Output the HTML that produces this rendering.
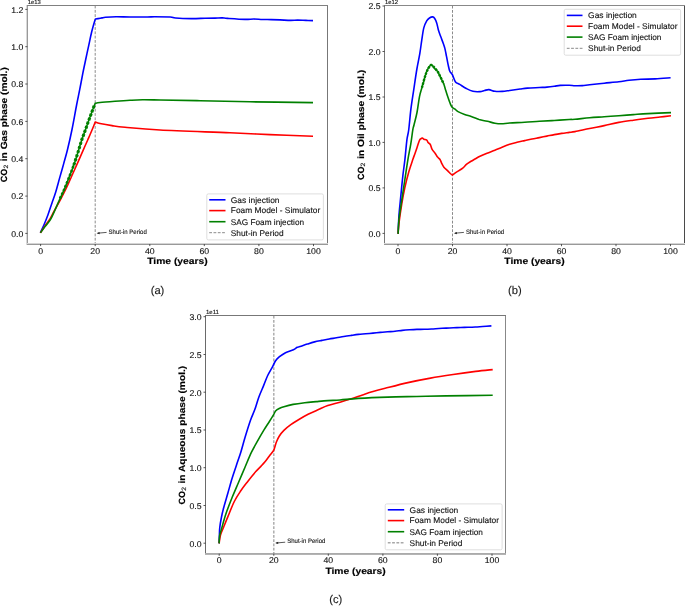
<!DOCTYPE html><html><head><meta charset="utf-8"><style>html,body{margin:0;padding:0;background:#fff;}svg{display:block;will-change:transform;} text{text-rendering:geometricPrecision;}</style></head><body>
<svg width="685" height="606" viewBox="0 0 685 606" font-family='"Liberation Sans", sans-serif'>
<rect width="685" height="606" fill="#fff"/>
<line x1="95.2" y1="5.6" x2="95.2" y2="244.0" stroke="#8a8a8a" stroke-width="1.0" stroke-dasharray="2.8 1.5"/>
<path d="M40.40,232.50 C40.98,231.25 42.65,227.92 43.90,225.00 C45.15,222.08 46.57,218.63 47.90,215.00 C49.23,211.37 50.63,206.90 51.90,203.20 C53.17,199.50 54.18,197.10 55.50,192.80 C56.82,188.50 58.43,182.27 59.80,177.40 C61.17,172.53 62.43,168.17 63.70,163.60 C64.97,159.03 66.03,155.60 67.40,150.00 C68.77,144.40 70.37,137.50 71.90,130.00 C73.43,122.50 75.28,111.80 76.60,105.00 C77.92,98.20 78.77,94.47 79.80,89.20 C80.83,83.93 81.82,78.35 82.80,73.40 C83.78,68.45 84.72,64.13 85.70,59.50 C86.68,54.87 87.70,50.22 88.70,45.60 C89.70,40.98 90.70,35.92 91.70,31.80 C92.70,27.68 94.05,23.03 94.70,20.90 C95.35,18.77 95.45,19.32 95.60,19.00 C96.00,18.93 96.93,18.78 98.00,18.60 C99.07,18.42 100.75,18.12 102.00,17.90 C103.25,17.68 103.17,17.48 105.50,17.30 C107.83,17.12 111.92,16.85 116.00,16.80 C120.08,16.75 124.75,16.97 130.00,17.00 C135.25,17.03 143.42,17.03 147.50,17.00 C151.58,16.97 150.70,16.80 154.50,16.80 C158.30,16.80 166.78,16.80 170.30,17.00 C173.82,17.20 172.10,17.73 175.60,18.00 C179.10,18.27 186.40,18.55 191.30,18.60 C196.20,18.65 201.05,18.38 205.00,18.30 C208.95,18.22 212.12,18.17 215.00,18.10 C217.88,18.03 220.22,17.85 222.30,17.90 C224.38,17.95 223.72,18.15 227.50,18.40 C231.28,18.65 240.62,19.30 245.00,19.40 C249.38,19.50 250.88,18.98 253.80,19.00 C256.72,19.02 259.58,19.40 262.50,19.50 C265.42,19.60 268.38,19.53 271.30,19.60 C274.22,19.67 276.78,19.77 280.00,19.90 C283.22,20.03 287.67,20.37 290.60,20.40 C293.53,20.43 295.03,20.10 297.60,20.10 C300.17,20.10 303.43,20.32 306.00,20.40 C308.57,20.48 311.83,20.57 313.00,20.60" fill="none" stroke="#0000ff" stroke-width="1.6" stroke-linejoin="round" stroke-linecap="butt"/>
<path d="M40.40,232.90 C41.17,231.75 43.40,228.35 45.00,226.00 C46.60,223.65 48.50,221.25 50.00,218.80 C51.50,216.35 52.23,214.53 54.00,211.30 C55.77,208.07 58.40,203.58 60.60,199.40 C62.80,195.22 65.12,190.60 67.20,186.20 C69.28,181.80 71.23,177.18 73.10,173.00 C74.97,168.82 76.75,164.83 78.40,161.10 C80.05,157.37 81.45,154.12 83.00,150.60 C84.55,147.08 86.27,143.27 87.70,140.00 C89.13,136.73 90.35,133.98 91.60,131.00 C92.85,128.02 94.60,123.58 95.20,122.10 C96.00,122.33 97.20,122.92 100.00,123.50 C102.80,124.08 107.83,124.98 112.00,125.60 C116.17,126.22 117.00,126.47 125.00,127.20 C133.00,127.93 142.50,129.07 160.00,130.00 C177.50,130.93 211.67,132.03 230.00,132.80 C248.33,133.57 256.17,134.02 270.00,134.60 C283.83,135.18 305.83,136.02 313.00,136.30" fill="none" stroke="#ff0000" stroke-width="1.6" stroke-linejoin="round" stroke-linecap="butt"/>
<path d="M40.40,232.90 C41.17,231.83 43.28,228.78 45.00,226.50 C46.72,224.22 48.55,223.05 50.70,219.20 C52.85,215.35 55.60,208.47 57.90,203.40 C60.20,198.33 62.52,193.43 64.50,188.80 C66.48,184.17 68.25,179.55 69.80,175.60 C71.35,171.65 72.48,168.83 73.80,165.10 C75.12,161.37 76.38,157.38 77.70,153.20 C79.02,149.02 80.48,143.70 81.70,140.00 C82.92,136.30 83.95,133.92 85.00,131.00 C86.05,128.08 86.92,125.50 88.00,122.50 C89.08,119.50 90.30,116.20 91.50,113.00 C92.70,109.80 94.58,104.92 95.20,103.30 C96.00,103.17 96.70,102.83 100.00,102.50 C103.30,102.17 110.00,101.67 115.00,101.30 C120.00,100.93 125.40,100.55 130.00,100.30 C134.60,100.05 137.60,99.85 142.60,99.80 C147.60,99.75 150.43,99.85 160.00,100.00 C169.57,100.15 185.00,100.40 200.00,100.70 C215.00,101.00 231.17,101.48 250.00,101.80 C268.83,102.12 302.50,102.47 313.00,102.60" fill="none" stroke="#008000" stroke-width="1.6" stroke-linejoin="round" stroke-linecap="butt"/>
<path d="M60,198.5 L64.5,188.8 L69.8,175.6 L73.8,165.1" fill="none" stroke="#008000" stroke-width="2.6" stroke-dasharray="2.3 1.8" stroke-linejoin="round"/>
<path d="M73.8,165.1 L77.7,153.2 L81.7,140 L85,131 L88,122.5 L91.5,113 L94.6,104.5" fill="none" stroke="#008000" stroke-width="3.1" stroke-dasharray="2.6 1.7" stroke-linejoin="round"/>
<rect x="26" y="5" width="1" height="240" fill="#d8d8d8"/>
<rect x="27" y="5" width="1" height="240" fill="#999"/>
<rect x="327" y="5" width="1" height="240" fill="#777"/>
<rect x="27" y="5" width="301" height="1" fill="#808080"/>
<rect x="27" y="243" width="301" height="1" fill="#d4d4d4"/>
<rect x="27" y="244" width="301" height="1" fill="#999"/>
<line x1="40.6" y1="244.0" x2="40.6" y2="246.1" stroke="#3a3a3a" stroke-width="0.85"/>
<text x="40.60" y="253.70" font-size="8.36" text-anchor="middle" fill="#111" stroke="#111" stroke-width="0.12" textLength="4.84" lengthAdjust="spacingAndGlyphs">0</text>
<line x1="95.2" y1="244.0" x2="95.2" y2="246.1" stroke="#3a3a3a" stroke-width="0.85"/>
<text x="95.18" y="253.70" font-size="8.36" text-anchor="middle" fill="#111" stroke="#111" stroke-width="0.12" textLength="9.67" lengthAdjust="spacingAndGlyphs">20</text>
<line x1="149.8" y1="244.0" x2="149.8" y2="246.1" stroke="#3a3a3a" stroke-width="0.85"/>
<text x="149.76" y="253.70" font-size="8.36" text-anchor="middle" fill="#111" stroke="#111" stroke-width="0.12" textLength="9.67" lengthAdjust="spacingAndGlyphs">40</text>
<line x1="204.3" y1="244.0" x2="204.3" y2="246.1" stroke="#3a3a3a" stroke-width="0.85"/>
<text x="204.34" y="253.70" font-size="8.36" text-anchor="middle" fill="#111" stroke="#111" stroke-width="0.12" textLength="9.67" lengthAdjust="spacingAndGlyphs">60</text>
<line x1="258.9" y1="244.0" x2="258.9" y2="246.1" stroke="#3a3a3a" stroke-width="0.85"/>
<text x="258.92" y="253.70" font-size="8.36" text-anchor="middle" fill="#111" stroke="#111" stroke-width="0.12" textLength="9.67" lengthAdjust="spacingAndGlyphs">80</text>
<line x1="313.5" y1="244.0" x2="313.5" y2="246.1" stroke="#3a3a3a" stroke-width="0.85"/>
<text x="313.50" y="253.70" font-size="8.36" text-anchor="middle" fill="#111" stroke="#111" stroke-width="0.12" textLength="14.51" lengthAdjust="spacingAndGlyphs">100</text>
<line x1="25.3" y1="233.4" x2="27.4" y2="233.4" stroke="#3a3a3a" stroke-width="0.85"/>
<text x="23.30" y="236.80" font-size="8.36" text-anchor="end" fill="#111" stroke="#111" stroke-width="0.12" textLength="12.09" lengthAdjust="spacingAndGlyphs">0.0</text>
<line x1="25.3" y1="196.1" x2="27.4" y2="196.1" stroke="#3a3a3a" stroke-width="0.85"/>
<text x="23.30" y="199.46" font-size="8.36" text-anchor="end" fill="#111" stroke="#111" stroke-width="0.12" textLength="12.09" lengthAdjust="spacingAndGlyphs">0.2</text>
<line x1="25.3" y1="158.7" x2="27.4" y2="158.7" stroke="#3a3a3a" stroke-width="0.85"/>
<text x="23.30" y="162.12" font-size="8.36" text-anchor="end" fill="#111" stroke="#111" stroke-width="0.12" textLength="12.09" lengthAdjust="spacingAndGlyphs">0.4</text>
<line x1="25.3" y1="121.4" x2="27.4" y2="121.4" stroke="#3a3a3a" stroke-width="0.85"/>
<text x="23.30" y="124.78" font-size="8.36" text-anchor="end" fill="#111" stroke="#111" stroke-width="0.12" textLength="12.09" lengthAdjust="spacingAndGlyphs">0.6</text>
<line x1="25.3" y1="84.0" x2="27.4" y2="84.0" stroke="#3a3a3a" stroke-width="0.85"/>
<text x="23.30" y="87.44" font-size="8.36" text-anchor="end" fill="#111" stroke="#111" stroke-width="0.12" textLength="12.09" lengthAdjust="spacingAndGlyphs">0.8</text>
<line x1="25.3" y1="46.7" x2="27.4" y2="46.7" stroke="#3a3a3a" stroke-width="0.85"/>
<text x="23.30" y="50.10" font-size="8.36" text-anchor="end" fill="#111" stroke="#111" stroke-width="0.12" textLength="12.09" lengthAdjust="spacingAndGlyphs">1.0</text>
<line x1="25.3" y1="9.4" x2="27.4" y2="9.4" stroke="#3a3a3a" stroke-width="0.85"/>
<text x="23.30" y="12.76" font-size="8.36" text-anchor="end" fill="#111" stroke="#111" stroke-width="0.12" textLength="12.09" lengthAdjust="spacingAndGlyphs">1.2</text>
<text x="27.70" y="4.00" font-size="5.98" fill="#111" stroke="#111" stroke-width="0.12" textLength="13.12" lengthAdjust="spacingAndGlyphs">1e13</text>
<text x="177.45" y="263.80" font-size="9.01" font-weight="bold" text-anchor="middle" fill="#000" stroke="#000" stroke-width="0.15" textLength="60.35" lengthAdjust="spacingAndGlyphs">Time (years)</text>
<g transform="translate(6.90,182.20) rotate(-90)">
<text x="0.00" y="0.00" font-size="9.01" font-weight="bold" fill="#000" stroke="#000" stroke-width="0.15" textLength="13.46" lengthAdjust="spacingAndGlyphs">CO</text>
<text x="13.66" y="1.30" font-size="6.31" fill="#000" stroke="#000" stroke-width="0.1" textLength="3.79" lengthAdjust="spacingAndGlyphs">2</text>
<text x="18.15" y="0.00" font-size="9.01" font-weight="bold" fill="#000" stroke="#000" stroke-width="0.15" textLength="96.88" lengthAdjust="spacingAndGlyphs" style="white-space:pre"> in Gas phase (mol.)</text>
</g>
<line x1="106.6" y1="232.4" x2="97.7" y2="233.2" stroke="#222" stroke-width="0.75"/>
<path d="M96.6,233.3 L99.6,232.0 L99.6,234.3 Z" fill="#222"/>
<text x="108.58" y="233.50" font-size="6.36" fill="#111" stroke="#111" stroke-width="0.1" textLength="38.20" lengthAdjust="spacingAndGlyphs">Shut-in Period</text>
<rect x="206.8" y="193.9" width="116.6" height="46.0" rx="1.5" fill="#fff" fill-opacity="0.8" stroke="#d6d6d6" stroke-width="0.8"/>
<line x1="209.2" y1="199.8" x2="225.5" y2="199.8" stroke="#0000ff" stroke-width="1.6"/>
<text x="230.80" y="202.60" font-size="8.25" fill="#111" stroke="#111" stroke-width="0.12" textLength="48.72" lengthAdjust="spacingAndGlyphs">Gas injection</text>
<line x1="209.2" y1="210.6" x2="225.5" y2="210.6" stroke="#ff0000" stroke-width="1.6"/>
<text x="230.80" y="213.40" font-size="8.25" fill="#111" stroke="#111" stroke-width="0.12" textLength="89.38" lengthAdjust="spacingAndGlyphs">Foam Model - Simulator</text>
<line x1="209.2" y1="221.7" x2="225.5" y2="221.7" stroke="#008000" stroke-width="1.6"/>
<text x="230.80" y="224.50" font-size="8.25" fill="#111" stroke="#111" stroke-width="0.12" textLength="73.30" lengthAdjust="spacingAndGlyphs">SAG Foam injection</text>
<line x1="209.2" y1="232.7" x2="225.5" y2="232.7" stroke="#8a8a8a" stroke-width="1.0" stroke-dasharray="2.8 1.5"/>
<text x="230.80" y="235.50" font-size="8.25" fill="#111" stroke="#111" stroke-width="0.12" textLength="52.79" lengthAdjust="spacingAndGlyphs">Shut-in Period</text>
<line x1="452.5" y1="5.7" x2="452.5" y2="244.1" stroke="#8a8a8a" stroke-width="1.0" stroke-dasharray="2.8 1.5"/>
<path d="M398.10,233.90 C398.25,230.75 398.53,221.45 399.00,215.00 C399.47,208.55 400.25,201.80 400.90,195.20 C401.55,188.60 402.23,181.33 402.90,175.40 C403.57,169.47 404.23,165.53 404.90,159.60 C405.57,153.67 406.27,144.73 406.90,139.80 C407.53,134.87 408.03,135.10 408.70,130.00 C409.37,124.90 410.05,115.97 410.90,109.20 C411.75,102.43 412.82,96.02 413.80,89.40 C414.78,82.78 415.80,75.45 416.80,69.50 C417.80,63.55 418.97,58.65 419.80,53.70 C420.63,48.75 421.13,44.10 421.80,39.80 C422.47,35.50 422.98,31.05 423.80,27.90 C424.62,24.75 425.75,22.55 426.70,20.90 C427.65,19.25 428.50,18.67 429.50,18.00 C430.50,17.33 431.83,16.82 432.70,16.90 C433.57,16.98 434.03,17.50 434.70,18.50 C435.37,19.50 436.08,20.98 436.70,22.90 C437.32,24.82 437.73,27.72 438.40,30.00 C439.07,32.28 439.90,34.40 440.70,36.60 C441.50,38.80 442.52,41.28 443.20,43.20 C443.88,45.12 444.25,45.90 444.80,48.10 C445.35,50.30 445.95,53.65 446.50,56.40 C447.05,59.15 447.55,62.13 448.10,64.60 C448.65,67.07 449.10,69.55 449.80,71.20 C450.50,72.85 451.35,72.72 452.30,74.50 C453.25,76.28 454.27,80.25 455.50,81.90 C456.73,83.55 457.90,83.30 459.70,84.40 C461.50,85.50 464.10,87.35 466.30,88.50 C468.50,89.65 470.62,90.78 472.90,91.30 C475.18,91.82 478.07,91.73 480.00,91.60 C481.93,91.47 483.02,90.83 484.50,90.50 C485.98,90.17 487.17,89.47 488.90,89.60 C490.63,89.73 492.67,91.00 494.90,91.30 C497.13,91.60 499.83,91.53 502.30,91.40 C504.77,91.27 506.73,90.90 509.70,90.50 C512.67,90.10 517.13,89.40 520.10,89.00 C523.07,88.60 524.28,88.35 527.50,88.10 C530.72,87.85 536.17,87.67 539.40,87.50 C542.63,87.33 544.42,87.30 546.90,87.10 C549.38,86.90 552.08,86.58 554.30,86.30 C556.52,86.02 557.72,85.57 560.20,85.40 C562.68,85.23 566.73,85.25 569.20,85.30 C571.67,85.35 572.82,85.65 575.00,85.70 C577.18,85.75 579.87,85.77 582.30,85.60 C584.73,85.43 585.95,85.10 589.60,84.70 C593.25,84.30 599.33,83.68 604.20,83.20 C609.07,82.72 614.67,82.28 618.80,81.80 C622.93,81.32 625.35,80.72 629.00,80.30 C632.65,79.88 636.32,79.53 640.70,79.30 C645.08,79.07 650.32,79.15 655.30,78.90 C660.28,78.65 668.05,77.98 670.60,77.80" fill="none" stroke="#0000ff" stroke-width="1.6" stroke-linejoin="round" stroke-linecap="butt"/>
<path d="M398.10,233.90 C398.25,232.08 398.37,228.12 399.00,223.00 C399.63,217.88 400.92,209.15 401.90,203.20 C402.88,197.25 403.73,192.58 404.90,187.30 C406.07,182.02 407.58,176.12 408.90,171.50 C410.22,166.88 411.78,162.62 412.80,159.60 C413.82,156.58 414.27,155.50 415.00,153.40 C415.73,151.30 416.47,149.15 417.20,147.00 C417.93,144.85 418.82,141.87 419.40,140.50 C419.98,139.13 420.20,139.20 420.70,138.80 C421.20,138.40 421.88,138.02 422.40,138.10 C422.92,138.18 423.07,138.97 423.80,139.30 C424.53,139.63 426.08,139.55 426.80,140.10 C427.52,140.65 427.52,141.87 428.10,142.60 C428.68,143.33 429.63,143.38 430.30,144.50 C430.97,145.62 431.30,147.85 432.10,149.30 C432.90,150.75 434.23,151.95 435.10,153.20 C435.97,154.45 436.48,155.75 437.30,156.80 C438.12,157.85 439.27,158.42 440.00,159.50 C440.73,160.58 441.05,162.02 441.70,163.30 C442.35,164.58 442.88,165.93 443.90,167.20 C444.92,168.47 446.63,169.77 447.80,170.90 C448.97,172.03 450.12,173.30 450.90,174.00 C451.68,174.70 452.23,174.92 452.50,175.10 C452.97,174.73 454.25,173.63 455.30,172.90 C456.35,172.17 457.57,171.50 458.80,170.70 C460.03,169.90 461.38,169.18 462.70,168.10 C464.02,167.02 465.32,165.33 466.70,164.20 C468.08,163.07 469.62,162.17 471.00,161.30 C472.38,160.43 473.50,159.85 475.00,159.00 C476.50,158.15 478.00,157.17 480.00,156.20 C482.00,155.23 484.52,154.20 487.00,153.20 C489.48,152.20 492.40,151.20 494.90,150.20 C497.40,149.20 499.53,148.18 502.00,147.20 C504.47,146.22 507.20,145.12 509.70,144.30 C512.20,143.48 514.52,142.92 517.00,142.30 C519.48,141.68 522.10,141.15 524.60,140.60 C527.10,140.05 529.53,139.50 532.00,139.00 C534.47,138.50 536.92,138.08 539.40,137.60 C541.88,137.12 544.42,136.60 546.90,136.10 C549.38,135.60 551.83,135.05 554.30,134.60 C556.77,134.15 559.22,133.77 561.70,133.40 C564.18,133.03 566.98,132.70 569.20,132.40 C571.42,132.10 571.60,132.25 575.00,131.60 C578.40,130.95 584.73,129.50 589.60,128.50 C594.47,127.50 599.33,126.62 604.20,125.60 C609.07,124.58 613.93,123.30 618.80,122.40 C623.67,121.50 628.53,120.88 633.40,120.20 C638.27,119.52 643.57,118.83 648.00,118.30 C652.43,117.77 656.17,117.42 660.00,117.00 C663.83,116.58 669.17,116.00 671.00,115.80" fill="none" stroke="#ff0000" stroke-width="1.6" stroke-linejoin="round" stroke-linecap="butt"/>
<path d="M398.10,233.90 C398.25,231.42 398.37,224.78 399.00,219.00 C399.63,213.22 400.92,205.80 401.90,199.20 C402.88,192.60 403.90,186.00 404.90,179.40 C405.90,172.80 406.92,165.53 407.90,159.60 C408.88,153.67 409.98,148.75 410.80,143.80 C411.62,138.85 412.27,133.03 412.80,129.90 C413.33,126.77 413.30,127.90 414.00,125.00 C414.70,122.10 416.08,117.23 417.00,112.50 C417.92,107.77 418.68,100.73 419.50,96.60 C420.32,92.47 421.17,90.35 421.90,87.70 C422.63,85.05 423.23,83.02 423.90,80.70 C424.57,78.38 425.23,75.77 425.90,73.80 C426.57,71.83 427.00,70.38 427.90,68.90 C428.80,67.42 430.15,64.95 431.30,64.90 C432.45,64.85 433.72,67.45 434.80,68.60 C435.88,69.75 436.82,70.30 437.80,71.80 C438.78,73.30 439.72,75.62 440.70,77.60 C441.68,79.58 442.87,81.58 443.70,83.70 C444.53,85.82 445.03,88.15 445.70,90.30 C446.37,92.45 446.97,94.43 447.70,96.60 C448.43,98.77 449.37,101.52 450.10,103.30 C450.83,105.08 451.28,106.32 452.10,107.30 C452.92,108.28 454.02,108.48 455.00,109.20 C455.98,109.92 456.40,110.73 458.00,111.60 C459.60,112.47 462.40,113.58 464.60,114.40 C466.80,115.22 469.00,115.73 471.20,116.50 C473.40,117.27 476.33,118.45 477.80,119.00 C479.27,119.55 478.40,119.42 480.00,119.80 C481.60,120.18 484.92,120.73 487.40,121.30 C489.88,121.87 492.55,122.78 494.90,123.20 C497.25,123.62 499.03,123.83 501.50,123.80 C503.97,123.77 505.85,123.25 509.70,123.00 C513.55,122.75 519.65,122.58 524.60,122.30 C529.55,122.02 534.45,121.60 539.40,121.30 C544.35,121.00 549.33,120.80 554.30,120.50 C559.27,120.20 565.75,119.70 569.20,119.50 C572.65,119.30 571.60,119.58 575.00,119.30 C578.40,119.02 584.73,118.22 589.60,117.80 C594.47,117.38 599.33,117.15 604.20,116.80 C609.07,116.45 613.93,116.07 618.80,115.70 C623.67,115.33 628.53,114.95 633.40,114.60 C638.27,114.25 641.73,113.93 648.00,113.60 C654.27,113.27 667.17,112.77 671.00,112.60" fill="none" stroke="#008000" stroke-width="1.6" stroke-linejoin="round" stroke-linecap="butt"/>
<path d="M421.9,87.7 C423,84 424.5,77.5 425.9,73.8 C427,71 429,66 431.3,64.9 C433,65.5 436,69.5 437.8,71.8 C439,73.5 441.5,79.5 443.7,83.7" fill="none" stroke="#008000" stroke-width="2.4" stroke-dasharray="2.2 1.2" stroke-linejoin="round"/>
<rect x="384" y="5" width="1" height="240" fill="#777"/>
<rect x="684" y="5" width="1" height="240" fill="#4a4a4a"/>
<rect x="384" y="5" width="301" height="1" fill="#888"/>
<rect x="384" y="243" width="301" height="1" fill="#d4d4d4"/>
<rect x="384" y="244" width="301" height="1" fill="#999"/>
<line x1="398.0" y1="244.1" x2="398.0" y2="246.2" stroke="#3a3a3a" stroke-width="0.85"/>
<text x="398.00" y="253.80" font-size="8.36" text-anchor="middle" fill="#111" stroke="#111" stroke-width="0.12" textLength="4.84" lengthAdjust="spacingAndGlyphs">0</text>
<line x1="452.5" y1="244.1" x2="452.5" y2="246.2" stroke="#3a3a3a" stroke-width="0.85"/>
<text x="452.50" y="253.80" font-size="8.36" text-anchor="middle" fill="#111" stroke="#111" stroke-width="0.12" textLength="9.67" lengthAdjust="spacingAndGlyphs">20</text>
<line x1="507.0" y1="244.1" x2="507.0" y2="246.2" stroke="#3a3a3a" stroke-width="0.85"/>
<text x="507.00" y="253.80" font-size="8.36" text-anchor="middle" fill="#111" stroke="#111" stroke-width="0.12" textLength="9.67" lengthAdjust="spacingAndGlyphs">40</text>
<line x1="561.5" y1="244.1" x2="561.5" y2="246.2" stroke="#3a3a3a" stroke-width="0.85"/>
<text x="561.50" y="253.80" font-size="8.36" text-anchor="middle" fill="#111" stroke="#111" stroke-width="0.12" textLength="9.67" lengthAdjust="spacingAndGlyphs">60</text>
<line x1="616.0" y1="244.1" x2="616.0" y2="246.2" stroke="#3a3a3a" stroke-width="0.85"/>
<text x="616.00" y="253.80" font-size="8.36" text-anchor="middle" fill="#111" stroke="#111" stroke-width="0.12" textLength="9.67" lengthAdjust="spacingAndGlyphs">80</text>
<line x1="670.5" y1="244.1" x2="670.5" y2="246.2" stroke="#3a3a3a" stroke-width="0.85"/>
<text x="670.50" y="253.80" font-size="8.36" text-anchor="middle" fill="#111" stroke="#111" stroke-width="0.12" textLength="14.51" lengthAdjust="spacingAndGlyphs">100</text>
<line x1="382.5" y1="233.4" x2="384.6" y2="233.4" stroke="#3a3a3a" stroke-width="0.85"/>
<text x="380.50" y="236.80" font-size="8.36" text-anchor="end" fill="#111" stroke="#111" stroke-width="0.12" textLength="12.09" lengthAdjust="spacingAndGlyphs">0.0</text>
<line x1="382.5" y1="187.9" x2="384.6" y2="187.9" stroke="#3a3a3a" stroke-width="0.85"/>
<text x="380.50" y="191.33" font-size="8.36" text-anchor="end" fill="#111" stroke="#111" stroke-width="0.12" textLength="12.09" lengthAdjust="spacingAndGlyphs">0.5</text>
<line x1="382.5" y1="142.4" x2="384.6" y2="142.4" stroke="#3a3a3a" stroke-width="0.85"/>
<text x="380.50" y="145.85" font-size="8.36" text-anchor="end" fill="#111" stroke="#111" stroke-width="0.12" textLength="12.09" lengthAdjust="spacingAndGlyphs">1.0</text>
<line x1="382.5" y1="97.0" x2="384.6" y2="97.0" stroke="#3a3a3a" stroke-width="0.85"/>
<text x="380.50" y="100.38" font-size="8.36" text-anchor="end" fill="#111" stroke="#111" stroke-width="0.12" textLength="12.09" lengthAdjust="spacingAndGlyphs">1.5</text>
<line x1="382.5" y1="51.5" x2="384.6" y2="51.5" stroke="#3a3a3a" stroke-width="0.85"/>
<text x="380.50" y="54.90" font-size="8.36" text-anchor="end" fill="#111" stroke="#111" stroke-width="0.12" textLength="12.09" lengthAdjust="spacingAndGlyphs">2.0</text>
<line x1="382.5" y1="6.0" x2="384.6" y2="6.0" stroke="#3a3a3a" stroke-width="0.85"/>
<text x="380.50" y="9.43" font-size="8.36" text-anchor="end" fill="#111" stroke="#111" stroke-width="0.12" textLength="12.09" lengthAdjust="spacingAndGlyphs">2.5</text>
<text x="384.90" y="4.10" font-size="5.98" fill="#111" stroke="#111" stroke-width="0.12" textLength="13.12" lengthAdjust="spacingAndGlyphs">1e12</text>
<text x="534.50" y="263.90" font-size="9.01" font-weight="bold" text-anchor="middle" fill="#000" stroke="#000" stroke-width="0.15" textLength="60.35" lengthAdjust="spacingAndGlyphs">Time (years)</text>
<g transform="translate(364.10,180.10) rotate(-90)">
<text x="0.00" y="0.00" font-size="9.01" font-weight="bold" fill="#000" stroke="#000" stroke-width="0.15" textLength="13.46" lengthAdjust="spacingAndGlyphs">CO</text>
<text x="13.66" y="1.30" font-size="6.31" fill="#000" stroke="#000" stroke-width="0.1" textLength="3.79" lengthAdjust="spacingAndGlyphs">2</text>
<text x="18.15" y="0.00" font-size="9.01" font-weight="bold" fill="#000" stroke="#000" stroke-width="0.15" textLength="92.16" lengthAdjust="spacingAndGlyphs" style="white-space:pre"> in Oil phase (mol.)</text>
</g>
<line x1="463.9" y1="232.4" x2="455.0" y2="233.2" stroke="#222" stroke-width="0.75"/>
<path d="M453.9,233.3 L456.9,232.0 L456.9,234.3 Z" fill="#222"/>
<text x="465.90" y="233.50" font-size="6.36" fill="#111" stroke="#111" stroke-width="0.1" textLength="38.20" lengthAdjust="spacingAndGlyphs">Shut-in Period</text>
<rect x="564.2" y="9.3" width="116.4" height="45.9" rx="1.5" fill="#fff" fill-opacity="0.8" stroke="#d6d6d6" stroke-width="0.8"/>
<line x1="566.8" y1="15.4" x2="582.5" y2="15.4" stroke="#0000ff" stroke-width="1.6"/>
<text x="588.10" y="18.20" font-size="8.25" fill="#111" stroke="#111" stroke-width="0.12" textLength="48.72" lengthAdjust="spacingAndGlyphs">Gas injection</text>
<line x1="566.8" y1="26.2" x2="582.5" y2="26.2" stroke="#ff0000" stroke-width="1.6"/>
<text x="588.10" y="29.00" font-size="8.25" fill="#111" stroke="#111" stroke-width="0.12" textLength="89.38" lengthAdjust="spacingAndGlyphs">Foam Model - Simulator</text>
<line x1="566.8" y1="37.1" x2="582.5" y2="37.1" stroke="#008000" stroke-width="1.6"/>
<text x="588.10" y="39.90" font-size="8.25" fill="#111" stroke="#111" stroke-width="0.12" textLength="73.30" lengthAdjust="spacingAndGlyphs">SAG Foam injection</text>
<line x1="566.8" y1="48.3" x2="582.5" y2="48.3" stroke="#8a8a8a" stroke-width="1.0" stroke-dasharray="2.8 1.5"/>
<text x="588.10" y="51.10" font-size="8.25" fill="#111" stroke="#111" stroke-width="0.12" textLength="52.79" lengthAdjust="spacingAndGlyphs">Shut-in Period</text>
<line x1="273.8" y1="315.6" x2="273.8" y2="553.7" stroke="#a8a8a8" stroke-width="1.4" stroke-dasharray="2.8 1.5"/>
<path d="M219.10,543.40 C219.15,542.00 219.28,537.68 219.40,535.00 C219.52,532.32 219.45,530.30 219.80,527.30 C220.15,524.30 220.87,520.22 221.50,517.00 C222.13,513.78 222.53,512.00 223.60,508.00 C224.67,504.00 226.47,498.00 227.90,493.00 C229.33,488.00 230.77,482.67 232.20,478.00 C233.63,473.33 235.07,469.30 236.50,465.00 C237.93,460.70 239.38,456.78 240.80,452.20 C242.22,447.62 243.40,442.78 245.00,437.50 C246.60,432.22 248.77,425.15 250.40,420.50 C252.03,415.85 253.40,413.48 254.80,409.60 C256.20,405.72 257.32,401.23 258.80,397.20 C260.28,393.17 262.22,389.02 263.70,385.40 C265.18,381.78 266.22,378.63 267.70,375.50 C269.18,372.37 271.28,369.07 272.60,366.60 C273.92,364.13 274.45,362.35 275.60,360.70 C276.75,359.05 277.85,358.03 279.50,356.70 C281.15,355.37 283.18,353.85 285.50,352.70 C287.82,351.55 291.43,350.70 293.40,349.80 C295.37,348.90 296.20,347.83 297.30,347.30 C298.40,346.77 298.33,347.13 300.00,346.60 C301.67,346.07 304.87,344.88 307.30,344.10 C309.73,343.32 312.17,342.52 314.60,341.90 C317.03,341.28 319.47,340.88 321.90,340.40 C324.33,339.92 326.77,339.43 329.20,339.00 C331.63,338.57 334.07,338.22 336.50,337.80 C338.93,337.38 341.37,336.90 343.80,336.50 C346.23,336.10 348.67,335.75 351.10,335.40 C353.53,335.05 355.97,334.67 358.40,334.40 C360.83,334.13 363.27,334.02 365.70,333.80 C368.13,333.58 370.57,333.33 373.00,333.10 C375.43,332.87 377.87,332.62 380.30,332.40 C382.73,332.18 385.15,331.98 387.60,331.80 C390.05,331.62 392.55,331.53 395.00,331.30 C397.45,331.07 399.87,330.65 402.30,330.40 C404.73,330.15 407.17,329.97 409.60,329.80 C412.03,329.63 414.47,329.48 416.90,329.40 C419.33,329.32 421.77,329.37 424.20,329.30 C426.63,329.23 429.07,329.13 431.50,329.00 C433.93,328.87 436.37,328.65 438.80,328.50 C441.23,328.35 443.67,328.22 446.10,328.10 C448.53,327.98 450.97,327.90 453.40,327.80 C455.83,327.70 458.27,327.58 460.70,327.50 C463.13,327.42 465.57,327.38 468.00,327.30 C470.43,327.22 472.87,327.13 475.30,327.00 C477.73,326.87 479.92,326.68 482.60,326.50 C485.28,326.32 489.93,326.00 491.40,325.90" fill="none" stroke="#0000ff" stroke-width="1.6" stroke-linejoin="round" stroke-linecap="butt"/>
<path d="M219.10,543.40 C219.33,542.00 219.75,537.68 220.50,535.00 C221.25,532.32 222.37,530.37 223.60,527.30 C224.83,524.23 226.12,520.90 227.90,516.60 C229.68,512.30 232.15,505.80 234.30,501.50 C236.45,497.20 238.65,494.02 240.80,490.80 C242.95,487.58 244.70,485.42 247.20,482.20 C249.70,478.98 253.48,474.18 255.80,471.50 C258.12,468.82 259.57,467.72 261.10,466.10 C262.63,464.48 263.68,463.40 265.00,461.80 C266.32,460.20 267.72,458.17 269.00,456.50 C270.28,454.83 271.88,452.88 272.70,451.80 C273.52,450.72 273.70,450.30 273.90,450.00 C274.02,449.63 274.18,449.13 274.60,447.80 C275.02,446.47 275.63,443.93 276.40,442.00 C277.17,440.07 277.95,438.13 279.20,436.20 C280.45,434.27 281.97,432.32 283.90,430.40 C285.83,428.48 288.30,426.52 290.80,424.70 C293.30,422.88 296.02,421.23 298.90,419.50 C301.78,417.77 304.83,415.95 308.10,414.30 C311.37,412.65 315.22,411.05 318.50,409.60 C321.78,408.15 324.22,406.83 327.80,405.60 C331.38,404.37 336.08,403.35 340.00,402.20 C343.92,401.05 347.53,399.92 351.30,398.70 C355.07,397.48 358.98,396.08 362.60,394.90 C366.22,393.72 369.23,392.70 373.00,391.60 C376.77,390.50 379.38,389.80 385.20,388.30 C391.02,386.80 400.35,384.30 407.90,382.60 C415.45,380.90 422.97,379.45 430.50,378.10 C438.03,376.75 445.57,375.62 453.10,374.50 C460.63,373.38 469.10,372.22 475.70,371.40 C482.30,370.58 489.87,369.90 492.70,369.60" fill="none" stroke="#ff0000" stroke-width="1.6" stroke-linejoin="round" stroke-linecap="butt"/>
<path d="M219.10,543.40 C219.18,542.17 219.22,538.33 219.60,536.00 C219.98,533.67 220.38,533.00 221.40,529.40 C222.42,525.80 223.90,519.75 225.70,514.40 C227.50,509.05 230.05,502.67 232.20,497.30 C234.35,491.93 236.47,487.22 238.60,482.20 C240.73,477.18 242.85,472.20 245.00,467.20 C247.15,462.20 249.35,456.67 251.50,452.20 C253.65,447.73 255.87,444.03 257.90,440.40 C259.93,436.77 261.73,433.63 263.70,430.40 C265.67,427.17 268.07,423.60 269.70,421.00 C271.33,418.40 272.48,416.50 273.50,414.80 C274.52,413.10 274.85,411.85 275.80,410.80 C276.75,409.75 277.85,409.18 279.20,408.50 C280.55,407.82 281.58,407.38 283.90,406.70 C286.22,406.02 289.63,405.07 293.10,404.40 C296.57,403.73 300.85,403.17 304.70,402.70 C308.55,402.23 312.35,401.95 316.20,401.60 C320.05,401.25 323.83,400.87 327.80,400.60 C331.77,400.33 334.90,400.37 340.00,400.00 C345.10,399.63 350.47,398.88 358.40,398.40 C366.33,397.92 377.87,397.42 387.60,397.10 C397.33,396.78 407.07,396.70 416.80,396.50 C426.53,396.30 433.35,396.10 446.00,395.90 C458.65,395.70 484.92,395.40 492.70,395.30" fill="none" stroke="#008000" stroke-width="1.6" stroke-linejoin="round" stroke-linecap="butt"/>
<rect x="205" y="315" width="1" height="240" fill="#6a6a6a"/>
<rect x="505" y="315" width="1" height="240" fill="#888"/>
<rect x="205" y="315" width="301" height="1" fill="#777"/>
<rect x="205" y="553" width="301" height="1" fill="#aaa"/>
<rect x="205" y="554" width="301" height="1" fill="#b4b4b4"/>
<line x1="219.2" y1="553.7" x2="219.2" y2="555.8" stroke="#3a3a3a" stroke-width="0.85"/>
<text x="219.20" y="563.40" font-size="8.36" text-anchor="middle" fill="#111" stroke="#111" stroke-width="0.12" textLength="4.84" lengthAdjust="spacingAndGlyphs">0</text>
<line x1="273.8" y1="553.7" x2="273.8" y2="555.8" stroke="#3a3a3a" stroke-width="0.85"/>
<text x="273.76" y="563.40" font-size="8.36" text-anchor="middle" fill="#111" stroke="#111" stroke-width="0.12" textLength="9.67" lengthAdjust="spacingAndGlyphs">20</text>
<line x1="328.3" y1="553.7" x2="328.3" y2="555.8" stroke="#3a3a3a" stroke-width="0.85"/>
<text x="328.32" y="563.40" font-size="8.36" text-anchor="middle" fill="#111" stroke="#111" stroke-width="0.12" textLength="9.67" lengthAdjust="spacingAndGlyphs">40</text>
<line x1="382.9" y1="553.7" x2="382.9" y2="555.8" stroke="#3a3a3a" stroke-width="0.85"/>
<text x="382.88" y="563.40" font-size="8.36" text-anchor="middle" fill="#111" stroke="#111" stroke-width="0.12" textLength="9.67" lengthAdjust="spacingAndGlyphs">60</text>
<line x1="437.4" y1="553.7" x2="437.4" y2="555.8" stroke="#3a3a3a" stroke-width="0.85"/>
<text x="437.44" y="563.40" font-size="8.36" text-anchor="middle" fill="#111" stroke="#111" stroke-width="0.12" textLength="9.67" lengthAdjust="spacingAndGlyphs">80</text>
<line x1="492.0" y1="553.7" x2="492.0" y2="555.8" stroke="#3a3a3a" stroke-width="0.85"/>
<text x="492.00" y="563.40" font-size="8.36" text-anchor="middle" fill="#111" stroke="#111" stroke-width="0.12" textLength="14.51" lengthAdjust="spacingAndGlyphs">100</text>
<line x1="203.5" y1="543.2" x2="205.6" y2="543.2" stroke="#3a3a3a" stroke-width="0.85"/>
<text x="201.50" y="546.60" font-size="8.36" text-anchor="end" fill="#111" stroke="#111" stroke-width="0.12" textLength="12.09" lengthAdjust="spacingAndGlyphs">0.0</text>
<line x1="203.5" y1="505.5" x2="205.6" y2="505.5" stroke="#3a3a3a" stroke-width="0.85"/>
<text x="201.50" y="508.85" font-size="8.36" text-anchor="end" fill="#111" stroke="#111" stroke-width="0.12" textLength="12.09" lengthAdjust="spacingAndGlyphs">0.5</text>
<line x1="203.5" y1="467.7" x2="205.6" y2="467.7" stroke="#3a3a3a" stroke-width="0.85"/>
<text x="201.50" y="471.10" font-size="8.36" text-anchor="end" fill="#111" stroke="#111" stroke-width="0.12" textLength="12.09" lengthAdjust="spacingAndGlyphs">1.0</text>
<line x1="203.5" y1="430.0" x2="205.6" y2="430.0" stroke="#3a3a3a" stroke-width="0.85"/>
<text x="201.50" y="433.35" font-size="8.36" text-anchor="end" fill="#111" stroke="#111" stroke-width="0.12" textLength="12.09" lengthAdjust="spacingAndGlyphs">1.5</text>
<line x1="203.5" y1="392.2" x2="205.6" y2="392.2" stroke="#3a3a3a" stroke-width="0.85"/>
<text x="201.50" y="395.60" font-size="8.36" text-anchor="end" fill="#111" stroke="#111" stroke-width="0.12" textLength="12.09" lengthAdjust="spacingAndGlyphs">2.0</text>
<line x1="203.5" y1="354.5" x2="205.6" y2="354.5" stroke="#3a3a3a" stroke-width="0.85"/>
<text x="201.50" y="357.85" font-size="8.36" text-anchor="end" fill="#111" stroke="#111" stroke-width="0.12" textLength="12.09" lengthAdjust="spacingAndGlyphs">2.5</text>
<line x1="203.5" y1="316.7" x2="205.6" y2="316.7" stroke="#3a3a3a" stroke-width="0.85"/>
<text x="201.50" y="320.10" font-size="8.36" text-anchor="end" fill="#111" stroke="#111" stroke-width="0.12" textLength="12.09" lengthAdjust="spacingAndGlyphs">3.0</text>
<text x="205.90" y="314.00" font-size="5.98" fill="#111" stroke="#111" stroke-width="0.12" textLength="13.12" lengthAdjust="spacingAndGlyphs">1e11</text>
<text x="355.55" y="573.50" font-size="9.01" font-weight="bold" text-anchor="middle" fill="#000" stroke="#000" stroke-width="0.15" textLength="60.35" lengthAdjust="spacingAndGlyphs">Time (years)</text>
<g transform="translate(185.10,504.50) rotate(-90)">
<text x="0.00" y="0.00" font-size="9.01" font-weight="bold" fill="#000" stroke="#000" stroke-width="0.15" textLength="13.46" lengthAdjust="spacingAndGlyphs">CO</text>
<text x="13.66" y="1.30" font-size="6.31" fill="#000" stroke="#000" stroke-width="0.1" textLength="3.79" lengthAdjust="spacingAndGlyphs">2</text>
<text x="18.15" y="0.00" font-size="9.01" font-weight="bold" fill="#000" stroke="#000" stroke-width="0.15" textLength="120.54" lengthAdjust="spacingAndGlyphs" style="white-space:pre"> in Aqueous phase (mol.)</text>
</g>
<line x1="285.2" y1="542.2" x2="276.3" y2="543.0" stroke="#222" stroke-width="0.75"/>
<path d="M275.2,543.1 L278.2,541.8 L278.2,544.1 Z" fill="#222"/>
<text x="287.16" y="543.30" font-size="6.36" fill="#111" stroke="#111" stroke-width="0.1" textLength="38.20" lengthAdjust="spacingAndGlyphs">Shut-in Period</text>
<rect x="385.2" y="503.9" width="116.9" height="45.9" rx="1.5" fill="#fff" fill-opacity="0.8" stroke="#d6d6d6" stroke-width="0.8"/>
<line x1="387.8" y1="509.8" x2="404.2" y2="509.8" stroke="#0000ff" stroke-width="1.6"/>
<text x="409.60" y="512.60" font-size="8.25" fill="#111" stroke="#111" stroke-width="0.12" textLength="48.72" lengthAdjust="spacingAndGlyphs">Gas injection</text>
<line x1="387.8" y1="520.6" x2="404.2" y2="520.6" stroke="#ff0000" stroke-width="1.6"/>
<text x="409.60" y="523.40" font-size="8.25" fill="#111" stroke="#111" stroke-width="0.12" textLength="89.38" lengthAdjust="spacingAndGlyphs">Foam Model - Simulator</text>
<line x1="387.8" y1="531.7" x2="404.2" y2="531.7" stroke="#008000" stroke-width="1.6"/>
<text x="409.60" y="534.50" font-size="8.25" fill="#111" stroke="#111" stroke-width="0.12" textLength="73.30" lengthAdjust="spacingAndGlyphs">SAG Foam injection</text>
<line x1="387.8" y1="542.7" x2="404.2" y2="542.7" stroke="#a8a8a8" stroke-width="1.4" stroke-dasharray="2.8 1.5"/>
<text x="409.60" y="545.50" font-size="8.25" fill="#111" stroke="#111" stroke-width="0.12" textLength="52.79" lengthAdjust="spacingAndGlyphs">Shut-in Period</text>
<text x="157.5" y="293.6" font-size="11.2" text-anchor="middle" fill="#1a1a1a" stroke="#1a1a1a" stroke-width="0.12">(a)</text>
<text x="514.8" y="293.6" font-size="11.2" text-anchor="middle" fill="#1a1a1a" stroke="#1a1a1a" stroke-width="0.12">(b)</text>
<text x="335.8" y="603.3" font-size="11.2" text-anchor="middle" fill="#1a1a1a" stroke="#1a1a1a" stroke-width="0.12">(c)</text>
</svg></body></html>
